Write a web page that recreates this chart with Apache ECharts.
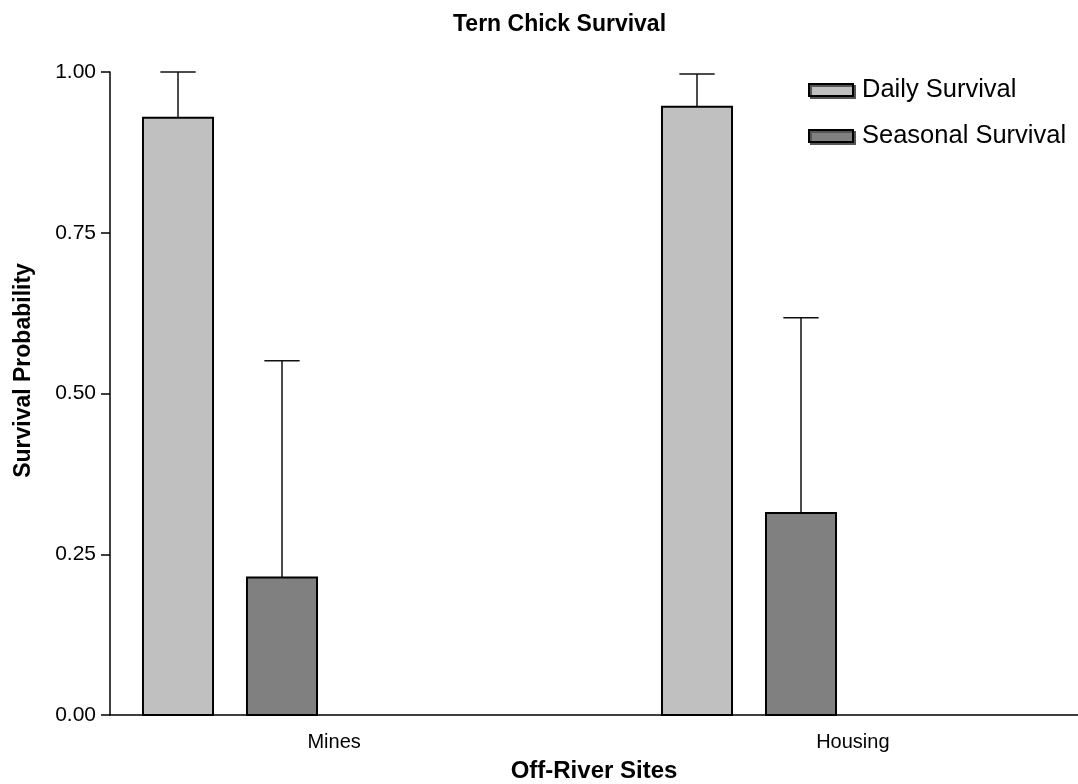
<!DOCTYPE html>
<html>
<head>
<meta charset="utf-8">
<script src="https://cdn.jsdelivr.net/npm/echarts@6/dist/echarts.min.js"></script>
<style>
  html, body { margin: 0; padding: 0; background: #fff; }
  #chart { width: 1078px; height: 784px; }
</style>
</head>
<body>
<div id="chart"></div>
<script>
// Sites along the x axis
const categories = ['Mines', 'Housing'];
// Survival estimates per site
const dailySurvival = [0.929, 0.946];
const seasonalSurvival = [0.214, 0.314];
// Upper end of each error bar
const dailyUpper = [1.0, 0.997];
const seasonalUpper = [0.551, 0.618];
// Y tick values
const yTicks = [0, 0.25, 0.5, 0.75, 1.0];

const FONT = '"Liberation Sans", Arial, sans-serif';

// Slot offsets inside a site group (in x-axis units) and bar width
const SLOT = { daily: -0.3, seasonal: -0.1 };
const BAR_W = 0.135;
const CAP_W = 0.068;

function makeRender(slot) {
  return function (params, api) {
    const i = api.value(0);
    const v = api.value(1);
    const hi = api.value(2);
    const top = api.coord([i + slot, v]);
    const base = api.coord([i + slot, 0]);
    const errTop = api.coord([i + slot, hi]);
    const w = api.size([BAR_W, 0])[0];
    const cw = api.size([CAP_W, 0])[0];
    const cx = Math.round(top[0]);
    return {
      type: 'group',
      children: [
        {
          type: 'line',
          shape: { x1: cx, y1: top[1], x2: cx, y2: errTop[1] },
          style: { stroke: '#111', lineWidth: 1.5 }
        },
        {
          type: 'line',
          shape: { x1: cx - cw / 2, y1: errTop[1], x2: cx + cw / 2, y2: errTop[1] },
          style: { stroke: '#111', lineWidth: 1.5 }
        },
        {
          type: 'rect',
          shape: { x: cx - w / 2, y: top[1], width: w, height: base[1] - top[1] },
          style: { fill: api.visual('color'), stroke: '#000', lineWidth: 2 }
        }
      ]
    };
  };
}

const option = {
  animation: false,
  backgroundColor: '#fff',
  title: {
    text: 'Tern Chick Survival',
    left: 448,
    top: 8,
    textStyle: { fontFamily: FONT, fontSize: 23, fontWeight: 'bold', color: '#000' }
  },
  legend: {
    orient: 'vertical',
    left: 808,
    top: 77,
    padding: 0,
    itemGap: 20,
    itemWidth: 44,
    itemHeight: 12,
    textStyle: { fontFamily: FONT, fontSize: 25.5, color: '#000', padding: [0, 0, 0, 4] },
    data: [
      { name: 'Daily Survival', icon: 'rect', itemStyle: { color: '#c0c0c0', borderColor: '#000', borderWidth: 2, shadowColor: '#555', shadowOffsetX: 2, shadowOffsetY: 2 } },
      { name: 'Seasonal Survival', icon: 'rect', itemStyle: { color: '#808080', borderColor: '#000', borderWidth: 2, shadowColor: '#555', shadowOffsetX: 2, shadowOffsetY: 2 } }
    ]
  },
  grid: { left: 110, right: 0, top: 72, bottom: 69, containLabel: false, outerBoundsMode: 'none' },
  xAxis: {
    type: 'value',
    min: -0.432,
    max: 1.434,
    name: 'Off-River Sites',
    nameLocation: 'middle',
    nameGap: 44,
    nameTextStyle: { fontFamily: FONT, fontSize: 24, fontWeight: 'bold', color: '#000' },
    axisLine: { show: true, onZero: false, lineStyle: { color: '#000', width: 1.5 } },
    axisTick: { show: false },
    splitLine: { show: false },
    axisLabel: {
      customValues: [0, 1],
      formatter: v => categories[Math.round(v)],
      fontFamily: FONT, fontSize: 20, color: '#000', margin: 17
    }
  },
  yAxis: {
    type: 'value',
    min: 0,
    max: 1,
    interval: 0.25,
    name: 'Survival Probability',
    nameLocation: 'middle',
    nameGap: 75,
    nameTextStyle: { fontFamily: FONT, fontSize: 23, fontWeight: 'bold', color: '#000', padding: [0, 0, 0, 46] },
    axisLine: { show: true, onZero: false, lineStyle: { color: '#000', width: 1.5 } },
    axisTick: { show: true, length: 9, lineStyle: { color: '#000', width: 1.5 }, customValues: yTicks },
    splitLine: { show: false },
    axisLabel: {
      customValues: yTicks,
      formatter: v => v.toFixed(2),
      fontFamily: FONT, fontSize: 21, color: '#000', margin: 14
    }
  },
  series: [
    {
      name: 'Daily Survival',
      type: 'custom',
      itemStyle: { color: '#c0c0c0' },
      renderItem: makeRender(SLOT.daily),
      encode: { x: 0, y: [1, 2] },
      data: categories.map((c, i) => [i, dailySurvival[i], dailyUpper[i]])
    },
    {
      name: 'Seasonal Survival',
      type: 'custom',
      itemStyle: { color: '#808080' },
      renderItem: makeRender(SLOT.seasonal),
      encode: { x: 0, y: [1, 2] },
      data: categories.map((c, i) => [i, seasonalSurvival[i], seasonalUpper[i]])
    }
  ]
};

const chart = echarts.init(document.getElementById('chart'));
chart.setOption(option);
</script>
</body>
</html>
